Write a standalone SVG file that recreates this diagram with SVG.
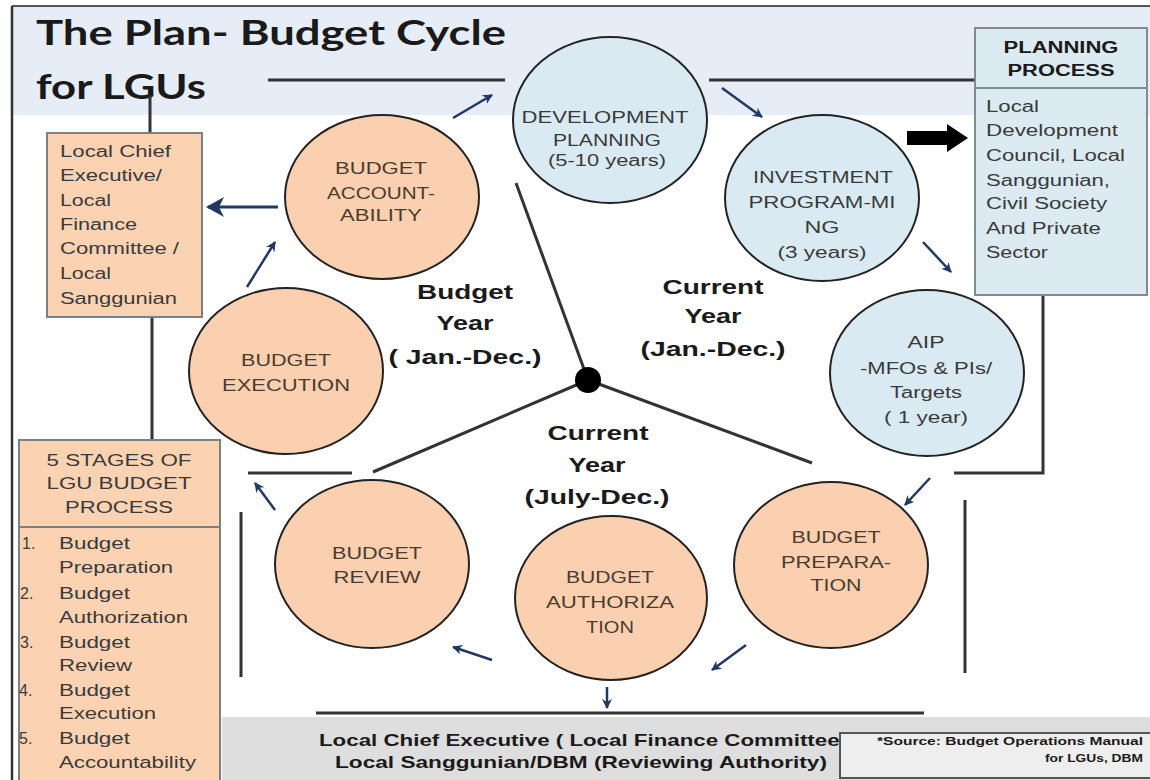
<svg xmlns="http://www.w3.org/2000/svg" width="1150" height="780" viewBox="0 0 1150 780">
<style>
.ttl{font-family:Lato,"Liberation Sans",sans-serif;font-weight:700;font-size:35px;fill:#1a1a1a}
.peach{fill:#fad0b0;stroke:#222;stroke-width:2}
.blue{fill:#daeaf2;stroke:#222;stroke-width:2}
.ct{font-family:"Liberation Sans",Arial,sans-serif;font-size:16px;text-anchor:middle}
.pt{fill:#4d3b2e}
.bt{fill:#3a3a3a}
.lbl{font-family:"Liberation Sans",Arial,sans-serif;font-size:21px;font-weight:700;fill:#1a1a1a;text-anchor:middle}
.bx{font-family:"Liberation Sans",Arial,sans-serif;font-size:16px;fill:#3a3a3a}
.hd{font-family:"Liberation Sans",Arial,sans-serif;font-size:16px;font-weight:700;fill:#1a1a1a;text-anchor:middle}
.bot{font-family:"Liberation Sans",Arial,sans-serif;font-size:17px;font-weight:700;fill:#1a1a1a;text-anchor:start}
.src{font-family:"Liberation Sans",Arial,sans-serif;font-size:10px;font-weight:700;fill:#1a1a1a;text-anchor:end}
.ln{stroke:#333;stroke-width:3;fill:none}
.ar{stroke:#1f3864;stroke-width:2.5;fill:none;marker-end:url(#ah)}
</style>
<defs>
<marker id="ah" markerWidth="12" markerHeight="12" refX="9" refY="5" orient="auto" markerUnits="userSpaceOnUse">
<path d="M0,0 L10,5 L0,10 L3,5 Z" fill="#1f3864"/>
</marker>
<marker id="ahb" markerWidth="20" markerHeight="22" refX="16" refY="10" orient="auto" markerUnits="userSpaceOnUse">
<path d="M0,0 L18,10 L0,20 L5,10 Z" fill="#1f3864"/>
</marker>
</defs>
<rect x="0" y="0" width="1150" height="780" fill="#ffffff"/>
<rect x="12" y="6" width="1138" height="109" fill="#e6edf6"/>
<rect x="222" y="717" width="928" height="63" fill="#dedede"/>
<line x1="12" y1="6" x2="1150" y2="6" stroke="#555" stroke-width="2"/>
<line x1="12" y1="6" x2="12" y2="780" stroke="#333" stroke-width="2.5"/>

<text class="ttl" x="36" y="45" textLength="470" lengthAdjust="spacingAndGlyphs">The Plan- Budget Cycle</text>
<text class="ttl" x="36" y="99" textLength="170" lengthAdjust="spacingAndGlyphs">for LGUs</text>

<g id="connectors">
<line class="ln" x1="268" y1="80" x2="505" y2="80"/>
<line class="ln" x1="709" y1="80" x2="975" y2="80"/>
<line class="ln" x1="150" y1="95" x2="150" y2="133"/>
<line class="ln" x1="152" y1="317" x2="152" y2="440"/>
<line class="ln" x1="588" y1="380" x2="516" y2="183"/>
<line class="ln" x1="588" y1="380" x2="373" y2="472"/>
<line class="ln" x1="588" y1="380" x2="812" y2="463"/>
<line class="ln" x1="248" y1="473" x2="352" y2="473"/>
<line class="ln" x1="241" y1="512" x2="241" y2="677"/>
<polyline class="ln" points="1043,295 1043,473 954,473"/>
<line class="ln" x1="965" y1="500" x2="965" y2="673"/>
<line class="ln" x1="316" y1="713" x2="924" y2="713"/>
<circle cx="588" cy="380" r="13" fill="#000"/>
<line class="ar" x1="453" y1="118" x2="492" y2="95"/>
<line class="ar" x1="722" y1="88" x2="762" y2="117"/>
<line class="ar" x1="923" y1="242" x2="951" y2="272"/>
<line class="ar" x1="930" y1="478" x2="905" y2="505"/>
<line class="ar" x1="746" y1="645" x2="712" y2="670"/>
<line class="ar" x1="492" y1="660" x2="453" y2="647"/>
<line class="ar" x1="275" y1="510" x2="255" y2="483"/>
<line class="ar" x1="247" y1="287" x2="275" y2="242"/>
<line x1="278" y1="207" x2="208" y2="207" stroke="#1f3864" stroke-width="3" marker-end="url(#ahb)"/>
<line class="ar" x1="607" y1="687" x2="607" y2="708"/>
<path d="M907,131 L947,131 L947,124 L968,138 L947,152 L947,145 L907,145 Z" fill="#000"/>
</g>

<g id="dev-planning">
<ellipse class="blue" cx="610" cy="120" rx="97" ry="83"/>
<text class="ct bt" x="605" y="123" textLength="167" lengthAdjust="spacingAndGlyphs">DEVELOPMENT</text>
<text class="ct bt" x="607" y="146" textLength="108" lengthAdjust="spacingAndGlyphs">PLANNING</text>
<text class="ct bt" x="607" y="166" textLength="118" lengthAdjust="spacingAndGlyphs">(5-10 years)</text>
</g>
<g id="investment">
<ellipse class="blue" cx="822" cy="198" rx="97" ry="83"/>
<text class="ct bt" x="823" y="183" textLength="140" lengthAdjust="spacingAndGlyphs">INVESTMENT</text>
<text class="ct bt" x="822" y="208" textLength="147" lengthAdjust="spacingAndGlyphs">PROGRAM-MI</text>
<text class="ct bt" x="822" y="233" textLength="35" lengthAdjust="spacingAndGlyphs">NG</text>
<text class="ct bt" x="822" y="258" textLength="89" lengthAdjust="spacingAndGlyphs">(3 years)</text>
</g>
<g id="aip">
<ellipse class="blue" cx="927" cy="373" rx="97" ry="83"/>
<text class="ct bt" x="926" y="348" textLength="37" lengthAdjust="spacingAndGlyphs">AIP</text>
<text class="ct bt" x="926" y="374" textLength="132" lengthAdjust="spacingAndGlyphs">-MFOs &amp; PIs/</text>
<text class="ct bt" x="926" y="398" textLength="72" lengthAdjust="spacingAndGlyphs">Targets</text>
<text class="ct bt" x="926" y="423" textLength="84" lengthAdjust="spacingAndGlyphs">( 1 year)</text>
</g>
<g id="budget-preparation">
<ellipse class="peach" cx="831" cy="565" rx="97" ry="83"/>
<text class="ct pt" x="836" y="543" textLength="89" lengthAdjust="spacingAndGlyphs">BUDGET</text>
<text class="ct pt" x="836" y="568" textLength="110" lengthAdjust="spacingAndGlyphs">PREPARA-</text>
<text class="ct pt" x="836" y="591" textLength="51" lengthAdjust="spacingAndGlyphs">TION</text>
</g>
<g id="budget-authorization">
<ellipse class="peach" cx="611" cy="598" rx="96" ry="82"/>
<text class="ct pt" x="610" y="583" textLength="88" lengthAdjust="spacingAndGlyphs">BUDGET</text>
<text class="ct pt" x="610" y="608" textLength="128" lengthAdjust="spacingAndGlyphs">AUTHORIZA</text>
<text class="ct pt" x="610" y="633" textLength="48" lengthAdjust="spacingAndGlyphs">TION</text>
</g>
<g id="budget-review">
<ellipse class="peach" cx="372" cy="564" rx="97" ry="84"/>
<text class="ct pt" x="377" y="559" textLength="90" lengthAdjust="spacingAndGlyphs">BUDGET</text>
<text class="ct pt" x="377" y="583" textLength="87" lengthAdjust="spacingAndGlyphs">REVIEW</text>
</g>
<g id="budget-execution">
<ellipse class="peach" cx="286" cy="371" rx="97" ry="83"/>
<text class="ct pt" x="286" y="366" textLength="90" lengthAdjust="spacingAndGlyphs">BUDGET</text>
<text class="ct pt" x="286" y="391" textLength="128" lengthAdjust="spacingAndGlyphs">EXECUTION</text>
</g>
<g id="budget-accountability">
<ellipse class="peach" cx="382" cy="197" rx="97" ry="82"/>
<text class="ct pt" x="381" y="174" textLength="92" lengthAdjust="spacingAndGlyphs">BUDGET</text>
<text class="ct pt" x="381" y="199" textLength="108" lengthAdjust="spacingAndGlyphs">ACCOUNT-</text>
<text class="ct pt" x="381" y="221" textLength="82" lengthAdjust="spacingAndGlyphs">ABILITY</text>
</g>

<g id="label-budget-year">
<text class="lbl" x="465" y="299" textLength="96" lengthAdjust="spacingAndGlyphs">Budget</text>
<text class="lbl" x="465" y="330" textLength="57" lengthAdjust="spacingAndGlyphs">Year</text>
<text class="lbl" x="465" y="364" textLength="153" lengthAdjust="spacingAndGlyphs">( Jan.-Dec.)</text>
</g>
<g id="label-current-year">
<text class="lbl" x="713" y="294" textLength="101" lengthAdjust="spacingAndGlyphs">Current</text>
<text class="lbl" x="713" y="323" textLength="57" lengthAdjust="spacingAndGlyphs">Year</text>
<text class="lbl" x="713" y="356" textLength="145" lengthAdjust="spacingAndGlyphs">(Jan.-Dec.)</text>
</g>
<g id="label-current-year-july">
<text class="lbl" x="598" y="440" textLength="101" lengthAdjust="spacingAndGlyphs">Current</text>
<text class="lbl" x="597" y="472" textLength="57" lengthAdjust="spacingAndGlyphs">Year</text>
<text class="lbl" x="597" y="504" textLength="145" lengthAdjust="spacingAndGlyphs">(July-Dec.)</text>
</g>

<g id="local-chief-box">
<rect x="47" y="133" width="155" height="184" fill="#fbd3b3" stroke="#7f7f7f" stroke-width="2"/>
<text class="bx" x="60" y="157" textLength="111" lengthAdjust="spacingAndGlyphs">Local Chief</text>
<text class="bx" x="60" y="181" textLength="102" lengthAdjust="spacingAndGlyphs">Executive/</text>
<text class="bx" x="60" y="206" textLength="51" lengthAdjust="spacingAndGlyphs">Local</text>
<text class="bx" x="60" y="230" textLength="77" lengthAdjust="spacingAndGlyphs">Finance</text>
<text class="bx" x="60" y="254" textLength="119" lengthAdjust="spacingAndGlyphs">Committee /</text>
<text class="bx" x="60" y="279" textLength="51" lengthAdjust="spacingAndGlyphs">Local</text>
<text class="bx" x="60" y="304" textLength="117" lengthAdjust="spacingAndGlyphs">Sanggunian</text>
</g>

<g id="five-stages-box">
<rect x="19" y="440" width="201" height="345" fill="#fbd3b3" stroke="#7f7f7f" stroke-width="2"/>
<line x1="19" y1="527" x2="220" y2="527" stroke="#7f7f7f" stroke-width="2"/>
<text class="bx" x="119" y="466" text-anchor="middle" textLength="145" lengthAdjust="spacingAndGlyphs">5 STAGES OF</text>
<text class="bx" x="119" y="489" text-anchor="middle" textLength="145" lengthAdjust="spacingAndGlyphs">LGU BUDGET</text>
<text class="bx" x="119" y="513" text-anchor="middle" textLength="108" lengthAdjust="spacingAndGlyphs">PROCESS</text>
<text class="bx" x="22" y="549">1.</text>
<text class="bx" x="59" y="549" textLength="71" lengthAdjust="spacingAndGlyphs">Budget</text>
<text class="bx" x="59" y="573" textLength="114" lengthAdjust="spacingAndGlyphs">Preparation</text>
<text class="bx" x="20" y="599">2.</text>
<text class="bx" x="59" y="599" textLength="71" lengthAdjust="spacingAndGlyphs">Budget</text>
<text class="bx" x="59" y="623" textLength="129" lengthAdjust="spacingAndGlyphs">Authorization</text>
<text class="bx" x="20" y="648">3.</text>
<text class="bx" x="59" y="648" textLength="71" lengthAdjust="spacingAndGlyphs">Budget</text>
<text class="bx" x="59" y="671" textLength="73" lengthAdjust="spacingAndGlyphs">Review</text>
<text class="bx" x="19" y="696">4.</text>
<text class="bx" x="59" y="696" textLength="71" lengthAdjust="spacingAndGlyphs">Budget</text>
<text class="bx" x="59" y="719" textLength="97" lengthAdjust="spacingAndGlyphs">Execution</text>
<text class="bx" x="19" y="744">5.</text>
<text class="bx" x="59" y="744" textLength="71" lengthAdjust="spacingAndGlyphs">Budget</text>
<text class="bx" x="59" y="768" textLength="137" lengthAdjust="spacingAndGlyphs">Accountability</text>
</g>

<g id="planning-process-box">
<rect x="975" y="28" width="172" height="267" fill="#dceaf1" stroke="#7f8c95" stroke-width="2"/>
<line x1="975" y1="88" x2="1147" y2="88" stroke="#7f8c95" stroke-width="2"/>
<text class="hd" x="1061" y="53" textLength="115" lengthAdjust="spacingAndGlyphs">PLANNING</text>
<text class="hd" x="1061" y="76" textLength="107" lengthAdjust="spacingAndGlyphs">PROCESS</text>
<text class="bx" x="986" y="112" textLength="53" lengthAdjust="spacingAndGlyphs">Local</text>
<text class="bx" x="986" y="136" textLength="132" lengthAdjust="spacingAndGlyphs">Development</text>
<text class="bx" x="986" y="161" textLength="139" lengthAdjust="spacingAndGlyphs">Council, Local</text>
<text class="bx" x="986" y="186" textLength="124" lengthAdjust="spacingAndGlyphs">Sanggunian,</text>
<text class="bx" x="986" y="209" textLength="121" lengthAdjust="spacingAndGlyphs">Civil Society</text>
<text class="bx" x="986" y="234" textLength="115" lengthAdjust="spacingAndGlyphs">And Private</text>
<text class="bx" x="986" y="258" textLength="62" lengthAdjust="spacingAndGlyphs">Sector</text>
</g>

<g id="reviewing-authority">
<text class="bot" x="319" y="746" textLength="528" lengthAdjust="spacingAndGlyphs">Local Chief Executive ( Local Finance Committee)</text>
<text class="bot" x="335" y="768" textLength="492" lengthAdjust="spacingAndGlyphs">Local Sanggunian/DBM  (Reviewing Authority)</text>
</g>
<g id="source-box">
<rect x="840" y="733" width="312" height="45" fill="#eeeeee" stroke="#555" stroke-width="2"/>
<text class="src" x="1143" y="745" textLength="266" lengthAdjust="spacingAndGlyphs">*Source:  Budget Operations Manual</text>
<text class="src" x="1143" y="762" textLength="98" lengthAdjust="spacingAndGlyphs">for LGUs, DBM</text>
</g>
</svg>
